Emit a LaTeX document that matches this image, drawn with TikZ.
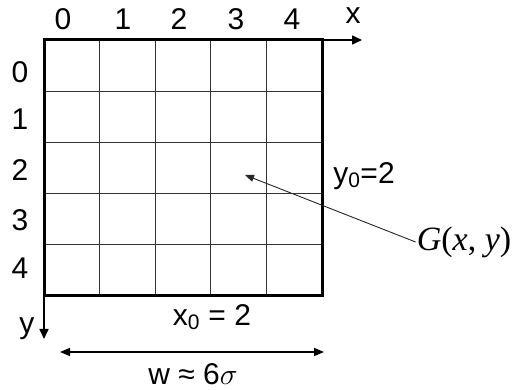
\RequirePackage{fix-cm}
\documentclass[tikz,border=0pt]{standalone}
\usepackage{fontspec}
\setmainfont{Liberation Sans}
\newfontfamily\serifface{Liberation Serif}
\usetikzlibrary{arrows.meta}

\begin{document}
\begin{tikzpicture}[
  x=1pt, y=-1pt,
  font=\fontsize{30}{33}\selectfont,
  cell/.style={draw=black!80, line width=0.9pt},
  frame/.style={draw=black, line width=3pt},
  axis/.style={draw=black, line width=1.6pt, -{Triangle[length=10pt,width=9pt]}},
  dim/.style={draw=black, line width=1.2pt, {Triangle[length=10pt,width=8pt]}-{Triangle[length=10pt,width=8pt]}},
  lead/.style={draw=black!85, line width=0.9pt, -{Triangle[length=9pt,width=7pt]}},
  lbl/.style={inner sep=1pt}
]
\useasboundingbox (0,0) rectangle (512,390);

% grid of pixels
\foreach \i in {1,...,4} {
  \draw[cell] (44+55.6*\i,40) -- (44+55.6*\i,296);
  \draw[cell] (44,40+51.2*\i) -- (322,40+51.2*\i);
}
\draw[frame] (44,40) rectangle (322,296);

% axes
\coordinate (o) at (44,40);
\coordinate (xend) at (362,40);
\coordinate (yend) at (44,339);
\draw[axis] (o) -- (xend);
\draw[axis] (o) -- (yend);

% index labels
\foreach \n/\p in {0/63,1/123,2/179,3/236,4/292}
  \node[lbl] (col\n) at (\p,19) {\n};
\foreach \n/\p in {0/72,1/119,2/170,3/220,4/268}
  \node[lbl] (row\n) at (20,\p) {\n};
\node[lbl] (xlab) at (353,16) {x};
\node[lbl] (ylab) at (27,329) {y};

% centre and width
\node[lbl] (xo) at (212,317) {x\textsubscript{0} = 2};
\node[lbl] (yo) at (364,176) {y\textsubscript{0}=2};
\coordinate (wl) at (60,352);
\coordinate (wr) at (324,352);
\draw[dim] (wl) -- (wr);
\node[lbl] (wtxt) at (193,374) {w ≈ 6$\sigma$};

% gaussian
\node[lbl, font=\fontsize{34}{37}\selectfont\serifface] (gauss) at (464,242)
  {\textit{G}(\textit{x}, \textit{y})};
\coordinate (peak) at (245,175);
\draw[lead] (gauss.west) -- (peak);
\end{tikzpicture}
\end{document}
